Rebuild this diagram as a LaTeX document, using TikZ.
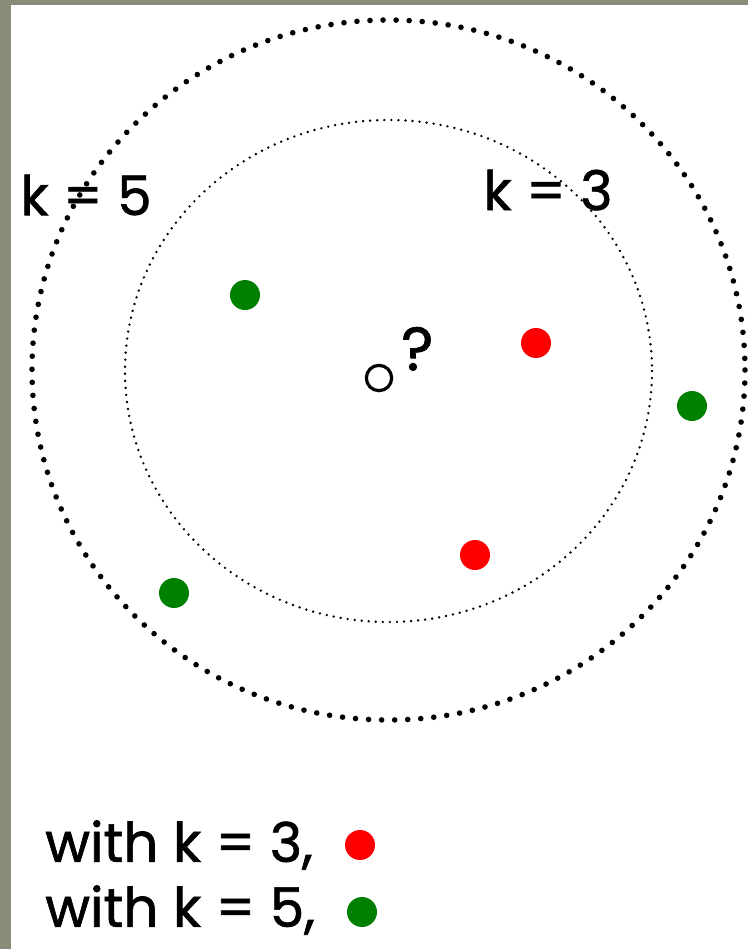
\documentclass[tikz,border=0pt]{standalone}
\usepackage{fontspec}
\setmainfont{Poppins}[FakeBold=1.2]
\usepackage{xcolor}
\definecolor{frame}{RGB}{138,140,122}
\definecolor{knnred}{RGB}{255,0,0}
\definecolor{knngreen}{RGB}{0,128,0}

\begin{document}
\begin{tikzpicture}[x=0.75pt,y=-0.75pt,line cap=round,
  dot/.style={circle,inner sep=0pt,minimum size=22.5pt,fill=#1},
  label/.style={font=\fontsize{41}{48}\selectfont,inner sep=0pt}]
\useasboundingbox (0,0) rectangle (748,949);
% frame
\fill[frame] (0,0) rectangle (748,949);
\fill[white] (11,5) rectangle (748,949);
% neighbourhoods
\draw[line width=4.2pt,dash pattern=on 0pt off 9.8pt] (388.5,370) ellipse [x radius=356.5,y radius=350];
\draw[line width=2pt,dash pattern=on 0pt off 5.3pt] (388.5,371) ellipse [x radius=263.5,y radius=251];
\node[label] (k5) at (86,195) {k = 5};
\node[label] (k3) at (548,190) {k = 3};
% query point
\node[circle,draw,line width=2.4pt,minimum size=19pt,inner sep=0pt] (query) at (379,378) {};
\node[label,anchor=south west,font=\fontsize{46}{50}\selectfont] (ask) at (401,371) {?};
% neighbours
\node[dot=knngreen] (g1) at (245,295) {};
\node[dot=knnred] (r1) at (536,343) {};
\node[dot=knngreen] (g2) at (692,406) {};
\node[dot=knnred] (r2) at (475,555) {};
\node[dot=knngreen] (g3) at (174,593) {};
% legend
\node[label,anchor=west] (leg3) at (45,845) {with k = 3,};
\node[dot=knnred] (leg3dot) at (360,845) {};
\node[label,anchor=west] (leg5) at (45,910) {with k = 5,};
\node[dot=knngreen] (leg5dot) at (362,912) {};
\end{tikzpicture}
\end{document}
